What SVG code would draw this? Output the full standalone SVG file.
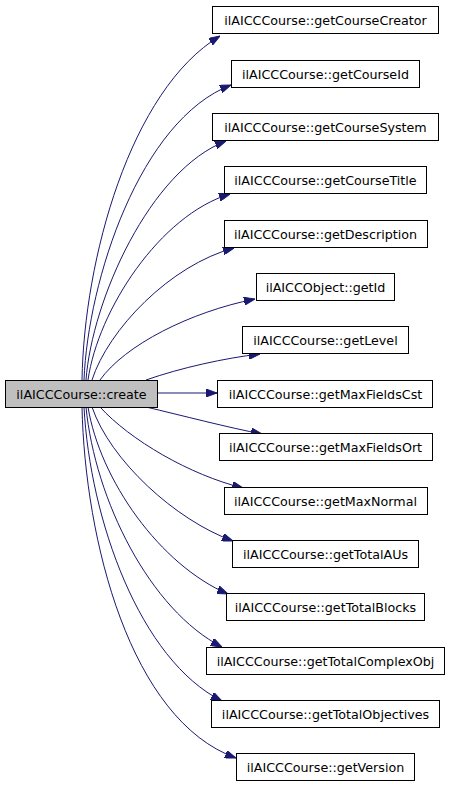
<svg xmlns="http://www.w3.org/2000/svg" width="451" height="787" viewBox="0 0 451 787">
<style>
.n rect{fill:#ffffff;stroke:#000000;stroke-width:1}
.n.root rect{fill:#bfbfbf}
.n text{font-family:"DejaVu Sans",sans-serif;font-size:12.7px;text-anchor:middle;fill:#000000}
.e path{fill:none;stroke:#191970;stroke-width:1}
</style>
<defs>
<marker id="ah" markerUnits="userSpaceOnUse" markerWidth="11" markerHeight="8" viewBox="0 0 11 8" refX="11" refY="4" orient="auto">
<polygon points="0,0 11,4 0,8" fill="#191970" stroke="#191970" stroke-width="1"/>
</marker>
</defs>
<rect width="451" height="787" fill="#ffffff"/>
<g id="edges" class="e">
<path d="M82,380 C84,260 130,90 220,36" marker-end="url(#ah)"/>
<path d="M84,380 C88,280 140,120 231,85" marker-end="url(#ah)"/>
<path d="M86,380 C92,300 150,170 226,141" marker-end="url(#ah)"/>
<path d="M88,380 C98,310 160,215 230,194" marker-end="url(#ah)"/>
<path d="M92,380 C108,330 170,265 234,248" marker-end="url(#ah)"/>
<path d="M100,380 C125,345 190,312 255,299" marker-end="url(#ah)"/>
<path d="M146,380 C180,368 225,358 260,354" marker-end="url(#ah)"/>
<path d="M157,393 L217,393" marker-end="url(#ah)"/>
<path d="M146,407 C180,415 230,428 262,434" marker-end="url(#ah)"/>
<path d="M100,407 C130,440 190,475 243,488" marker-end="url(#ah)"/>
<path d="M92,407 C110,460 175,520 233,541" marker-end="url(#ah)"/>
<path d="M88,407 C100,480 160,565 228,594" marker-end="url(#ah)"/>
<path d="M86,407 C95,500 150,610 222,647" marker-end="url(#ah)"/>
<path d="M84,407 C90,520 140,660 222,701" marker-end="url(#ah)"/>
<path d="M82,407 C85,540 130,720 236,758" marker-end="url(#ah)"/>
</g>
<g id="node_create" class="n root"><rect x="5.5" y="380.5" width="152" height="27"/><text x="81.5" y="398.5">ilAICCCourse::create</text></g>
<g id="node_getCourseCreator" class="n"><rect x="212.5" y="6.5" width="226" height="27"/><text x="325.5" y="24.5">ilAICCCourse::getCourseCreator</text></g>
<g id="node_getCourseId" class="n"><rect x="231.5" y="60.5" width="188" height="27"/><text x="325.5" y="78.5">ilAICCCourse::getCourseId</text></g>
<g id="node_getCourseSystem" class="n"><rect x="212.5" y="113.5" width="226" height="27"/><text x="325.5" y="131.5">ilAICCCourse::getCourseSystem</text></g>
<g id="node_getCourseTitle" class="n"><rect x="224.5" y="166.5" width="202" height="27"/><text x="325.5" y="184.5">ilAICCCourse::getCourseTitle</text></g>
<g id="node_getDescription" class="n"><rect x="224.5" y="220.5" width="203" height="27"/><text x="325.5" y="238.5">ilAICCCourse::getDescription</text></g>
<g id="node_getId" class="n"><rect x="256.5" y="273.5" width="138" height="27"/><text x="325.5" y="291.5">ilAICCObject::getId</text></g>
<g id="node_getLevel" class="n"><rect x="242.5" y="326.5" width="166" height="27"/><text x="325.5" y="344.5">ilAICCCourse::getLevel</text></g>
<g id="node_getMaxFieldsCst" class="n"><rect x="217.5" y="380.5" width="215" height="27"/><text x="325.5" y="398.5">ilAICCCourse::getMaxFieldsCst</text></g>
<g id="node_getMaxFieldsOrt" class="n"><rect x="219.5" y="433.5" width="213" height="27"/><text x="325.5" y="451.5">ilAICCCourse::getMaxFieldsOrt</text></g>
<g id="node_getMaxNormal" class="n"><rect x="224.5" y="487.5" width="203" height="27"/><text x="325.5" y="505.5">ilAICCCourse::getMaxNormal</text></g>
<g id="node_getTotalAUs" class="n"><rect x="232.5" y="540.5" width="186" height="27"/><text x="325.5" y="558.5">ilAICCCourse::getTotalAUs</text></g>
<g id="node_getTotalBlocks" class="n"><rect x="226.5" y="593.5" width="198" height="27"/><text x="325.5" y="611.5">ilAICCCourse::getTotalBlocks</text></g>
<g id="node_getTotalComplexObj" class="n"><rect x="206.5" y="647.5" width="238" height="27"/><text x="325.5" y="665.5">ilAICCCourse::getTotalComplexObj</text></g>
<g id="node_getTotalObjectives" class="n"><rect x="211.5" y="700.5" width="228" height="27"/><text x="325.5" y="718.5">ilAICCCourse::getTotalObjectives</text></g>
<g id="node_getVersion" class="n"><rect x="236.5" y="753.5" width="178" height="27"/><text x="325.5" y="771.5">ilAICCCourse::getVersion</text></g>
</svg>
